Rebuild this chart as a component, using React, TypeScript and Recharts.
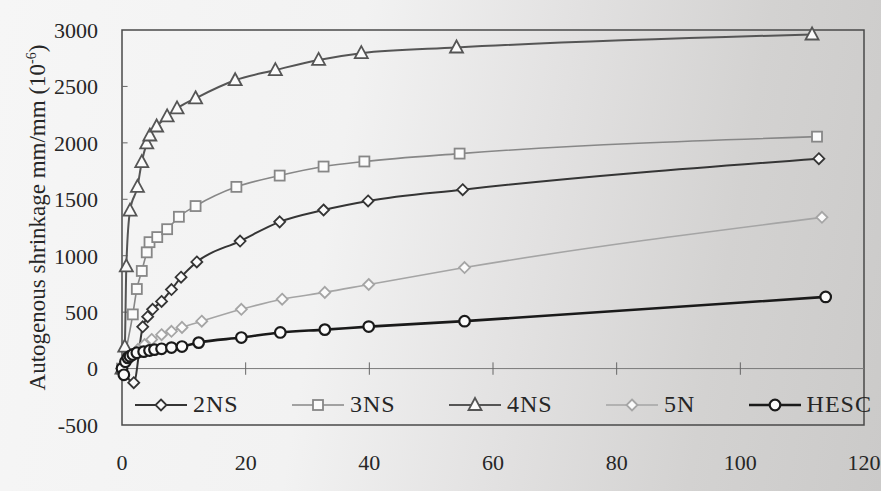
import React from "react";
import {
  LineChart,
  Line,
  XAxis,
  YAxis,
  ReferenceLine,
  ReferenceArea,
  Legend,
} from "recharts";

const SERIF = '"Liberation Serif", "Times New Roman", serif';

const X_TICKS = [0, 20, 40, 60, 80, 100, 120];
const Y_TICKS = [-500, 0, 500, 1000, 1500, 2000, 2500, 3000];

// age in days / autogenous shrinkage (10^-6)
const NS2_DAYS = [0, 1.9, 3.35, 4.15, 4.95, 6.4, 8.0, 9.55, 12.1, 19.1, 25.5, 32.6, 39.8, 55.1, 112.7];
const NS2_VALUES = [0, -125, 370, 460, 525, 595, 700, 810, 945, 1130, 1300, 1405, 1485, 1585, 1860];

const NS3_DAYS = [0, 1.75, 2.4, 3.2, 4.0, 4.45, 5.7, 7.3, 9.2, 11.9, 18.5, 25.5, 32.6, 39.2, 54.6, 112.4];
const NS3_VALUES = [0, 480, 705, 865, 1030, 1120, 1165, 1235, 1345, 1440, 1610, 1710, 1790, 1835, 1905, 2055];

const NS4_DAYS = [0, 0.45, 0.7, 1.3, 2.5, 3.2, 4.0, 4.5, 5.6, 7.3, 8.9, 11.9, 18.3, 24.8, 31.8, 38.7, 54.1, 111.6];
const NS4_VALUES = [0, 195, 905, 1400, 1610, 1830, 1995, 2065, 2145, 2235, 2305, 2395, 2555, 2645, 2735, 2795, 2845, 2960];

const N5_DAYS = [0, 1.5, 2.6, 3.65, 4.8, 6.4, 8.0, 9.7, 12.9, 19.3, 25.9, 32.8, 39.9, 55.4, 113.2];
const N5_VALUES = [0, 110, 170, 212, 258, 300, 330, 365, 420, 525, 615, 675, 745, 895, 1340];

const HESC_DAYS = [0, 0.3, 0.55, 0.95, 1.3, 1.75, 2.4, 3.5, 4.45, 5.25, 6.4, 8.0, 9.7, 12.4, 19.3, 25.6, 32.8, 39.9, 55.4, 113.8];
const HESC_VALUES = [0, -55, 60, 95, 110, 125, 140, 150, 160, 168, 175, 186, 195, 230, 275, 320, 345, 372, 420, 635];

type Shape = "diamond" | "square" | "triangle" | "circle";

interface Series {
  name: string;
  days: number[];
  values: number[];
  color: string;
  width: number;
  shape: Shape;
}

const SERIES: Series[] = [
  { name: "2NS", days: NS2_DAYS, values: NS2_VALUES, color: "#353535", width: 2, shape: "diamond" },
  { name: "3NS", days: NS3_DAYS, values: NS3_VALUES, color: "#878787", width: 1.6, shape: "square" },
  { name: "4NS", days: NS4_DAYS, values: NS4_VALUES, color: "#555555", width: 2, shape: "triangle" },
  { name: "5N", days: N5_DAYS, values: N5_VALUES, color: "#a5a5a5", width: 1.6, shape: "diamond" },
  { name: "HESC", days: HESC_DAYS, values: HESC_VALUES, color: "#1a1a1a", width: 2.6, shape: "circle" },
];

function toPoints(days: number[], values: number[]) {
  return days.map((day, i) => ({ day, value: values[i] }));
}

function Marker({ shape, cx, cy, color }: { shape: Shape; cx: number; cy: number; color: string }) {
  const common = { fill: "#fbfbfb", stroke: color, strokeWidth: 1.8 };
  if (shape === "diamond") {
    const s = 5.5;
    return <path d={`M${cx},${cy - s}L${cx + s},${cy}L${cx},${cy + s}L${cx - s},${cy}Z`} {...common} />;
  }
  if (shape === "square") {
    return <rect x={cx - 5} y={cy - 5} width={10} height={10} {...common} />;
  }
  if (shape === "triangle") {
    return <path d={`M${cx},${cy - 7}L${cx + 6.5},${cy + 5}L${cx - 6.5},${cy + 5}Z`} {...common} />;
  }
  return <circle cx={cx} cy={cy} r={5.3} {...common} strokeWidth={2.2} />;
}

function makeDot(s: Series) {
  return (p: any) => {
    if (p.cx == null || p.cy == null) return <g key={`${s.name}-${p.index}`} />;
    return (
      <g key={`${s.name}-${p.index}`}>
        <Marker shape={s.shape} cx={p.cx} cy={p.cy} color={s.color} />
      </g>
    );
  };
}

function LegendContent({ payload }: any) {
  return (
    <div
      style={{
        display: "flex",
        justifyContent: "space-between",
        alignItems: "center",
        fontFamily: SERIF,
        fontSize: 24,
        color: "#262626",
        letterSpacing: 1,
      }}
    >
      {(payload || []).map((entry: any) => {
        const s = SERIES.find((x) => x.name === entry.value);
        if (!s) return null;
        return (
          <div key={s.name} style={{ display: "flex", alignItems: "center" }}>
            <svg width={52} height={22}>
              <line x1={0} y1={11} x2={52} y2={11} stroke={s.color} strokeWidth={s.width} />
              <Marker shape={s.shape} cx={26} cy={11} color={s.color} />
            </svg>
            <span style={{ marginLeft: 6 }}>{s.name}</span>
          </div>
        );
      })}
    </div>
  );
}

function YTitle(props: any) {
  const vb = props.viewBox || { x: 0, y: 30, width: 122, height: 395 };
  const cx = vb.x + 45;
  const cy = vb.y + vb.height / 2 - 10;
  return (
    <text
      x={cx}
      y={cy}
      transform={`rotate(-90 ${cx} ${cy})`}
      textAnchor="middle"
      fontFamily={SERIF}
      fontSize={23}
      fill="#262626"
    >
      Autogenous shrinkage mm/mm (10
      <tspan dy={-9} fontSize={14}>-6</tspan>
      <tspan dy={9}>)</tspan>
    </text>
  );
}

export default function App() {
  return (
    <div
      style={{
        width: 881,
        height: 491,
        background:
          "linear-gradient(100deg, #f6f6f6 0%, #f2f2f2 38%, #e2e1e1 60%, #d3d2d1 80%, #cbcac9 100%)",
      }}
    >
      <style>{`body{margin:0}`}</style>
      <LineChart
        width={881}
        height={491}
        margin={{ top: 30, right: 17, left: 0, bottom: 6 }}
      >
        <XAxis
          type="number"
          dataKey="day"
          domain={[0, 120]}
          ticks={X_TICKS}
          axisLine={false}
          tickLine={false}
          tickMargin={23}
          height={60}
          interval={0}
          tick={{ fill: "#262626", fontSize: 22, fontFamily: SERIF }}
        />
        <YAxis
          type="number"
          domain={[-500, 3000]}
          ticks={Y_TICKS}
          axisLine={false}
          tickLine={false}
          tickMargin={18}
          width={122}
          interval={0}
          tick={{ fill: "#262626", fontSize: 22, fontFamily: SERIF }}
          label={<YTitle />}
        />
        <ReferenceArea
          x1={0}
          x2={120}
          y1={-500}
          y2={3000}
          fill="none"
          fillOpacity={0}
          stroke="#4a4a4a"
          strokeWidth={1.5}
        />
        <ReferenceLine y={0} stroke="#7a7a7a" strokeWidth={1} />
        {X_TICKS.slice(1, -1).map((t) => (
          <ReferenceLine
            key={`xt-${t}`}
            segment={[
              { x: t, y: -55 },
              { x: t, y: 55 },
            ]}
            stroke="#666"
            strokeWidth={1}
          />
        ))}
        {Y_TICKS.slice(2, -1).map((t) => (
          <ReferenceLine
            key={`yt-${t}`}
            segment={[
              { x: 0, y: t },
              { x: 0.9, y: t },
            ]}
            stroke="#666"
            strokeWidth={1}
          />
        ))}
        {SERIES.map((s) => (
          <Line
            key={s.name}
            name={s.name}
            data={toPoints(s.days, s.values)}
            dataKey="value"
            type="monotone"
            stroke={s.color}
            strokeWidth={s.width}
            dot={makeDot(s)}
            activeDot={false}
            isAnimationActive={false}
          />
        ))}
        <Legend
          layout="horizontal"
          verticalAlign="middle"
          align="center"
          content={<LegendContent />}
          wrapperStyle={{ left: 135, top: 391, width: 737 }}
        />
      </LineChart>
    </div>
  );
}
